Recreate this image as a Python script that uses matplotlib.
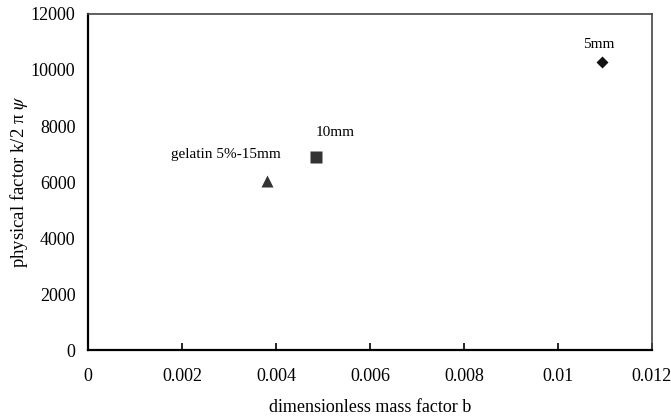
import matplotlib
matplotlib.use('Agg')
import matplotlib.pyplot as plt

# data
mass_factor = [0.00380, 0.00485, 0.01094]
phys_factor = [6040, 6900, 10270]
markers = ['^', 's', 'D']
labels = ['gelatin 5%-15mm', '10mm', '5mm']

plt.rcParams['font.family'] = ['Liberation Serif', 'DejaVu Serif']
plt.rcParams['mathtext.fontset'] = 'stix'

fig = plt.figure(figsize=(6.71, 4.19), dpi=100)
ax = fig.add_axes([88/671, 1-350/419, 564/671, 336/419])

for x, y, m in zip(mass_factor, phys_factor, markers):
   if m == 'D':
      ax.plot(x, y, m, color='#111111', ms=6.5, mec='none')
   else:
      ax.plot(x, y, m, color='#333333', ms=8, mec='none')

# point labels
ax.annotate(labels[0], (mass_factor[0], phys_factor[0]), xytext=(-29.5, 18.7),
            textcoords='offset points', ha='center', va='center', fontsize=11)
ax.annotate(labels[1], (mass_factor[1], phys_factor[1]), xytext=(0, 17.3),
            textcoords='offset points', ha='left', va='center', fontsize=11)
ax.annotate(labels[2], (mass_factor[2], phys_factor[2]), xytext=(-2.4, 13),
            textcoords='offset points', ha='center', va='center', fontsize=11)

ax.set_xlim(0, 0.012)
ax.set_ylim(0, 12000)
ax.set_xticks([0, 0.002, 0.004, 0.006, 0.008, 0.01, 0.012])
ax.set_xticklabels(['0', '0.002', '0.004', '0.006', '0.008', '0.01', '0.012'])
ax.set_yticks(range(0, 12001, 2000))
ax.tick_params(axis='x', direction='in', length=5, width=1.2, labelsize=13, pad=13)
ax.tick_params(axis='y', length=0, labelsize=13, pad=9)

for s in ['left', 'bottom']:
   ax.spines[s].set_linewidth(1.6)
for s in ['top', 'right']:
   ax.spines[s].set_linewidth(1.2)
   ax.spines[s].set_color('#444444')

ax.set_xlabel('dimensionless mass factor b', fontsize=13, labelpad=10)
ax.set_ylabel(r'physical factor k/2 π $\psi$', fontsize=13.5, va='center')
ax.yaxis.set_label_coords(-69/564, 0.5)

plt.savefig('out.png', dpi=100)
print('Created plot: out.png')
